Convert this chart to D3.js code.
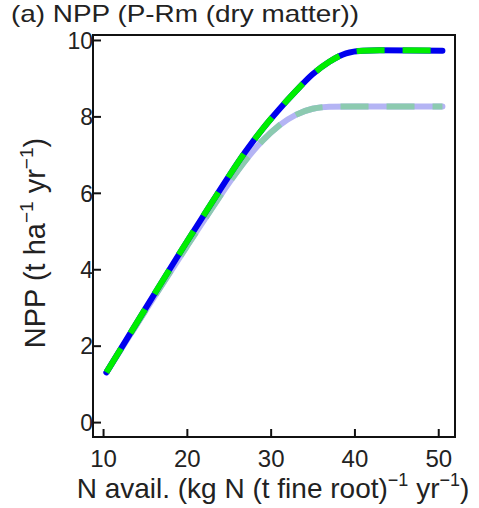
<!DOCTYPE html>
<html><head><meta charset="utf-8">
<script src="https://cdn.jsdelivr.net/npm/d3@7"></script>
<style>body{margin:0;background:#fff}svg{display:block}text{font-family:"Liberation Sans",Arial,sans-serif;fill:#222}</style>
</head><body>
<svg id="c" width="479" height="508"></svg>
<script>
const xTicks = [10, 20, 30, 40, 50];
const yTicks = [0, 2, 4, 6, 8, 10];
const nAvailUpper = [10.4, 15, 20, 23, 25, 27, 29, 31, 33, 35, 37, 39, 41, 43, 50.5];
const nppUpper   = [1.3, 2.95, 4.72, 5.75, 6.43, 7.08, 7.66, 8.18, 8.66, 9.1, 9.43, 9.65, 9.72, 9.73, 9.72];
const nAvailLower = [10.4, 15, 20, 23, 25, 27, 29, 31, 33, 35, 37, 40, 50.5];
const nppLower   = [1.3, 2.9, 4.6, 5.6, 6.25, 6.85, 7.36, 7.76, 8.04, 8.2, 8.25, 8.26, 8.26];

const svg = d3.select("#c");
const L = 93, R = 455, T = 35, B = 437;
const x = d3.scaleLinear().domain([8.8, 52]).range([L, R]);
const y = d3.scaleLinear().domain([-0.39, 10.13]).range([B, T]);

const line = (xs, ys) => d3.line().x((d, i) => x(xs[i])).y((d, i) => y(ys[i])).curve(d3.curveMonotoneX)(ys);

const g = svg.append("g");
g.append("path").attr("d", line(nAvailLower, nppLower)).attr("fill", "none").attr("stroke", "#b4b4f4").attr("stroke-width", 6).attr("stroke-linecap", "round");
g.append("path").attr("d", line(nAvailLower, nppLower)).attr("fill", "none").attr("stroke", "#8ccab0").attr("stroke-width", 6).attr("stroke-dasharray", "28,18");
g.append("path").attr("d", line(nAvailUpper, nppUpper)).attr("fill", "none").attr("stroke", "#0000ee").attr("stroke-width", 6).attr("stroke-linecap", "round");
g.append("path").attr("d", line(nAvailUpper, nppUpper)).attr("fill", "none").attr("stroke", "#00ee00").attr("stroke-width", 6).attr("stroke-dasharray", "28,18");

svg.append("rect").attr("x", L).attr("y", T).attr("width", R - L).attr("height", B - T).attr("fill", "none").attr("stroke", "#111").attr("stroke-width", 2);

const xAxis = svg.append("g").attr("transform", `translate(0,${B})`).call(d3.axisTop(x).tickValues(xTicks).tickSize(8).tickFormat(d3.format("d")));
xAxis.select(".domain").remove();
xAxis.selectAll("line").attr("stroke", "#111").attr("stroke-width", 2);
xAxis.selectAll("text").attr("y", 30).attr("dy", "0").style("font-size", "24px").attr("fill", "#222");

const yAxis = svg.append("g").attr("transform", `translate(${L},0)`).call(d3.axisRight(y).tickValues(yTicks).tickSize(8).tickFormat(d3.format("d")));
yAxis.select(".domain").remove();
yAxis.selectAll("line").attr("stroke", "#111").attr("stroke-width", 2);
yAxis.selectAll("text").attr("x", 0).attr("text-anchor", "end").attr("dy", "0.36em").style("font-size", "23px").attr("fill", "#222");

svg.append("text").attr("x", 11).attr("y", 22).style("font-size", "24px")
  .attr("textLength", 348).attr("lengthAdjust", "spacingAndGlyphs")
  .text("(a) NPP (P-Rm (dry matter))");

const xl = svg.append("text").attr("x", 273).attr("y", 498).attr("text-anchor", "middle").style("font-size", "28px");
xl.append("tspan").text("N avail. (kg N (t fine root)");
xl.append("tspan").attr("dy", -12).style("font-size", "18px").text("−1");
xl.append("tspan").attr("dy", 12).text(" yr");
xl.append("tspan").attr("dy", -12).style("font-size", "18px").text("−1");
xl.append("tspan").attr("dy", 12).text(")");

const yl = svg.append("text").attr("transform", `translate(45,243) rotate(-90)`).attr("text-anchor", "middle").style("font-size", "29px");
yl.append("tspan").text("NPP (t ha");
yl.append("tspan").attr("dy", -12).style("font-size", "19px").text("−1");
yl.append("tspan").attr("dy", 12).text(" yr");
yl.append("tspan").attr("dy", -12).style("font-size", "19px").text("−1");
yl.append("tspan").attr("dy", 12).text(")");
</script>
</body></html>
